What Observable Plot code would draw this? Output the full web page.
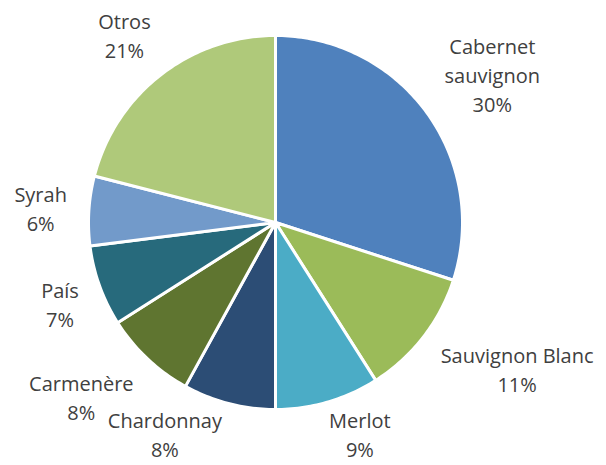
<!DOCTYPE html>
<html><head><meta charset="utf-8">
<script src="https://cdn.jsdelivr.net/npm/d3@7"></script>
<script src="https://cdn.jsdelivr.net/npm/@observablehq/plot@0.6"></script>
<style>body{margin:0;background:#fff}#chart{width:606px;height:465px}</style>
</head><body><div id="chart"></div>
<script>
// Data
const names = ["Cabernet sauvignon","Sauvignon Blanc","Merlot","Chardonnay","Carmenère","País","Syrah","Otros"];
const labelNames = ["Cabernet\nsauvignon","Sauvignon Blanc","Merlot","Chardonnay","Carmenère","País","Syrah","Otros"];
const shares = [30,11,9,8,8,7,6,21];
const palette = ["#4F81BD","#9BBB59","#4BACC6","#2C4D75","#5F7530","#276A7C","#729ACA","#AFC97A"];

const W = 606, H = 465;
const R = 187, CX = 275, CY = 222;   // pie radius & centre (pixels)
const FONT = 20, LINE = 29, FONTFAM = "'Open Sans', sans-serif";

const total = d3.sum(shares);
let acc = 0;
const slices = names.map((name, i) => {
  const a0 = acc / total * 2 * Math.PI; acc += shares[i];
  const a1 = acc / total * 2 * Math.PI;
  return {name, label: labelNames[i], value: shares[i], a0, a1, mid: (a0 + a1) / 2};
});

// slice polygons in data space (unit circle, clockwise from top)
const features = slices.map(s => {
  const ring = [[0, 0]];
  const n = Math.max(2, Math.ceil((s.a1 - s.a0) / (Math.PI / 180)));
  for (let k = 0; k <= n; k++) {
    const t = s.a0 + (s.a1 - s.a0) * k / n;
    ring.push([Math.sin(t), Math.cos(t)]);
  }
  ring.push([0, 0]);
  return {type: "Feature", properties: {name: s.name}, geometry: {type: "Polygon", coordinates: [ring]}};
});

// label placement ("best fit"): outside end, box pushed outward;
// a label that would leave the bottom is pushed up and slid in to hug the pie;
// a label hitting an earlier one slides along the circle
const ctx = document.createElement("canvas").getContext("2d");
ctx.font = `${FONT}px ${FONTFAM}`;
const pad = 22, hugPad = 8, bottomLimit = H - 3, gap = 4, glyphH = FONT * 0.9;
const placed = [];   // per-line rectangles of placed labels
const lineRects = b => b.widths.map((lw, j) => ({
  cx: b.px, cy: b.py + (j - (b.widths.length - 1) / 2) * LINE, w: lw, h: glyphH}));
const overlaps = b => lineRects(b).some(r => placed.some(p =>
  Math.abs(p.cx - r.cx) < (p.w + r.w) / 2 + gap && Math.abs(p.cy - r.cy) < (p.h + r.h) / 2 + gap));
const labels = slices.map(s => {
  const lines = (s.label + "\n" + s.value + "%").split("\n");
  const widths = lines.map(l => ctx.measureText(l).width);
  const w = d3.max(widths), h = lines.length * LINE;
  const b = {widths, px: 0, py: 0};
  let a = s.mid;
  const place = ang => {
    const ux = Math.sin(ang), uy = -Math.cos(ang);
    b.px = CX + (R + pad) * ux + Math.sign(ux) * Math.min(1, Math.abs(ux) / 0.7) * w / 2;
    b.py = CY + (R + pad) * uy + uy * h / 2;
  };
  const step = Math.PI / 180;
  place(a);
  if (b.py + h / 2 > bottomLimit) {
    b.py = bottomLimit - h / 2;
    const textTop = b.py - h / 2 + (LINE - glyphH) / 2 - CY;
    const dx = Math.sqrt(Math.max(0, (R + hugPad) ** 2 - textTop ** 2));
    b.px = CX + Math.sign(Math.sin(a)) * (dx + w / 2);
  }
  for (let k = 0; k < 90 && overlaps(b); k++) { a += step; place(a); }
  placed.push(...lineRects(b));
  return {text: lines.join("\n"), x: (b.px - CX) / R, y: (CY - b.py) / R};
});

// projection domain = the whole canvas, in units of the radius
const domain = {type: "MultiPoint", coordinates: [[-CX / R, -(H - CY) / R], [(W - CX) / R, CY / R]]};

const chart = Plot.plot({
  width: W, height: H,
  margin: 0,
  projection: {type: "reflect-y", domain},
  color: {domain: names, range: palette},
  style: {fontFamily: FONTFAM, background: "white"},
  marks: [
    Plot.geo(features, {fill: d => d.properties.name, stroke: "white", strokeWidth: 3, strokeLinejoin: "round"}),
    Plot.text(labels, {x: "x", y: "y", text: "text", fontSize: FONT, lineHeight: LINE / FONT, fill: "#404040", textAnchor: "middle"})
  ]
});
document.getElementById("chart").append(chart);
</script>
</body></html>
